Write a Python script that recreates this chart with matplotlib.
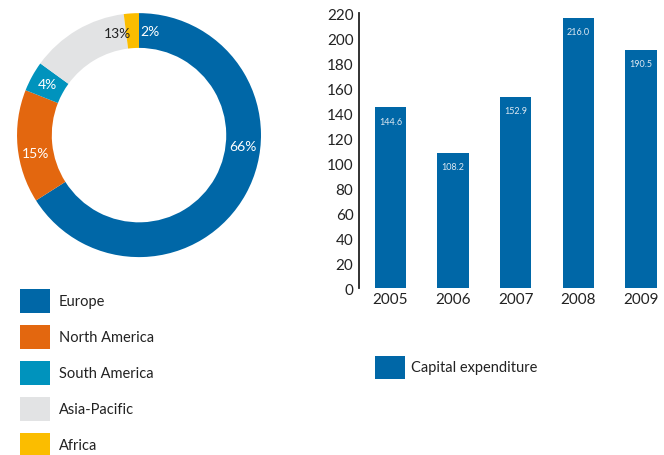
import matplotlib.pyplot as plt
from matplotlib.patches import Rectangle
import numpy as np

plt.rcParams['font.family'] = ['Lato', 'DejaVu Sans']

# regional split (donut)
regions = ["Europe", "North America", "South America", "Asia-Pacific", "Africa"]
shares = [66, 15, 4, 13, 2]
region_colors = ["#0067a7", "#e3670f", "#0093bd", "#e2e3e4", "#fbbd00"]
label_colors = ["white", "white", "white", "#222222", "white"]
label_angles = [-6, 190, 151, 102, 84]   # where each % label sits on the ring

# capital expenditure (bars)
years = ["2005", "2006", "2007", "2008", "2009"]
capex = [144.6, 108.2, 152.9, 216.0, 190.5]
bar_color = "#0067a7"

W, H = 664, 456
fig = plt.figure(figsize=(W / 100, H / 100), dpi=100)


def legend_row(x, yc, color, text, w=30, h=24, gap=9):
    # x, yc in pixels from top-left
    fig.patches.append(Rectangle((x / W, 1 - (yc + h / 2) / H), w / W, h / H,
                                 transform=fig.transFigure, facecolor=color,
                                 edgecolor="none"))
    fig.text((x + w + gap) / W, 1 - yc / H, text, fontsize=10.5, color="#222222",
             va="center", ha="left")


# donut
ax1 = fig.add_axes([0.0256, 0.434, 0.3675, 0.535])
ax1.pie(shares, colors=region_colors, startangle=90, counterclock=False,
        radius=1.0, wedgeprops=dict(width=0.285, linewidth=0))
ax1.set_xlim(-1, 1)
ax1.set_ylim(-1, 1)
ax1.set_aspect("equal")
ax1.axis("off")
r_lab = 0.86
for s, a, c in zip(shares, label_angles, label_colors):
    t = np.radians(a)
    ax1.text(r_lab * np.cos(t), r_lab * np.sin(t), f"{s}%", color=c,
             fontsize=10, ha="center", va="center")

for i, (name, c) in enumerate(zip(regions, region_colors)):
    legend_row(20, 302 + i * 36, c, name)

# bars
ax2 = fig.add_axes([0.5407, 0.3662, 0.450, 0.603])
x = np.arange(len(years))
ax2.bar(x, capex, width=0.5, color=bar_color)
for xi, v in zip(x, capex):
    ax2.text(xi, v - 11, f"{v:.1f}", color="#dde8f2", fontsize=6.5,
             ha="center", va="center")
ax2.set_xlim(-0.5, 4.27)
ax2.set_ylim(0, 220)
ax2.set_yticks(range(0, 221, 20))
ax2.set_xticks(x)
ax2.set_xticklabels(years)
for sp in ["top", "right", "bottom"]:
    ax2.spines[sp].set_visible(False)
ax2.spines["left"].set_color("#222222")
ax2.spines["left"].set_linewidth(1.3)
ax2.tick_params(axis="y", length=0, labelsize=11, colors="#222222", pad=4)
ax2.tick_params(axis="x", length=0, labelsize=11, colors="#222222", pad=3)

legend_row(375, 368, bar_color, "Capital expenditure", h=23, gap=6)

fig.savefig("out.png", dpi=100)
